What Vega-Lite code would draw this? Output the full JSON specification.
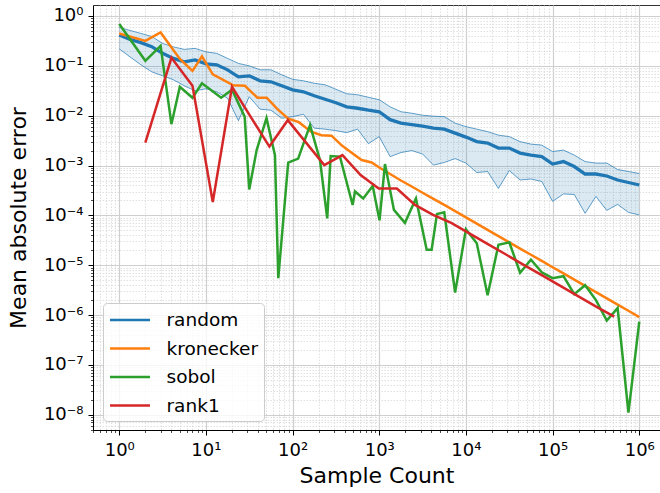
{
  "$schema": "https://vega.github.io/schema/vega-lite/v6.json",
  "autosize": {"type": "none"},
  "padding": {"left": 93, "top": 5, "right": 0, "bottom": 63},
  "width": 567,
  "height": 425,
  "config": {
    "view": {"stroke": "#333333", "strokeWidth": 1},
    "font": "DejaVu Sans",
    "axis": {"labelFont": "DejaVu Sans", "titleFont": "DejaVu Sans", "labelColor": "black", "titleColor": "black", "domainColor": "black", "tickColor": "black", "titleFontWeight": "normal"}
  },
  "datasets": {
    "band": [
      {"x":1,"lo":0.219,"hi":0.589},
      {"x":1.334,"lo":0.151,"hi":0.513},
      {"x":1.778,"lo":0.105,"hi":0.447},
      {"x":2.371,"lo":0.0759,"hi":0.389},
      {"x":3.162,"lo":0.0631,"hi":0.282},
      {"x":4.217,"lo":0.0525,"hi":0.240},
      {"x":5.623,"lo":0.0398,"hi":0.214},
      {"x":7.499,"lo":0.0316,"hi":0.224},
      {"x":10,"lo":0.0347,"hi":0.191},
      {"x":13.34,"lo":0.0302,"hi":0.178},
      {"x":17.78,"lo":0.0224,"hi":0.141},
      {"x":23.71,"lo":0.00794,"hi":0.112},
      {"x":31.62,"lo":0.0240,"hi":0.100},
      {"x":42.17,"lo":0.0135,"hi":0.0832},
      {"x":56.23,"lo":0.0129,"hi":0.0832},
      {"x":74.99,"lo":0.00891,"hi":0.0661},
      {"x":100,"lo":0.00955,"hi":0.0537},
      {"x":133.4,"lo":0.0107,"hi":0.0501},
      {"x":177.8,"lo":0.00562,"hi":0.0447},
      {"x":237.1,"lo":0.00537,"hi":0.0417},
      {"x":316.2,"lo":0.00501,"hi":0.0339},
      {"x":421.7,"lo":0.00457,"hi":0.0275},
      {"x":562.3,"lo":0.00537,"hi":0.0263},
      {"x":749.9,"lo":0.00275,"hi":0.0234},
      {"x":1000,"lo":0.00380,"hi":0.0209},
      {"x":1334,"lo":0.00151,"hi":0.0151},
      {"x":1778,"lo":0.00182,"hi":0.0120},
      {"x":2371,"lo":0.00200,"hi":0.0112},
      {"x":3162,"lo":0.00170,"hi":0.0102},
      {"x":4217,"lo":0.00102,"hi":0.00977},
      {"x":5623,"lo":0.00115,"hi":0.00955},
      {"x":7499,"lo":0.00138,"hi":0.00708},
      {"x":10000,"lo":0.00112,"hi":0.00603},
      {"x":13335,"lo":0.000724,"hi":0.00537},
      {"x":17783,"lo":0.000759,"hi":0.00479},
      {"x":23714,"lo":0.000347,"hi":0.00407},
      {"x":31623,"lo":0.000794,"hi":0.00380},
      {"x":42170,"lo":0.000513,"hi":0.00302},
      {"x":56234,"lo":0.000537,"hi":0.00269},
      {"x":74989,"lo":0.000479,"hi":0.00257},
      {"x":100000,"lo":0.000191,"hi":0.00191},
      {"x":133352,"lo":0.000269,"hi":0.00204},
      {"x":177828,"lo":0.000263,"hi":0.00162},
      {"x":237137,"lo":0.000110,"hi":0.00120},
      {"x":316228,"lo":0.000240,"hi":0.00112},
      {"x":421697,"lo":0.000126,"hi":0.00112},
      {"x":562341,"lo":0.000166,"hi":0.000832},
      {"x":749894,"lo":0.000115,"hi":0.000759},
      {"x":1000000,"lo":0.000102,"hi":0.000692}
    ],
    "lines": [
      {"method":"random","x":1,"y":0.417},
      {"method":"random","x":1.334,"y":0.339},
      {"method":"random","x":1.778,"y":0.292},
      {"method":"random","x":2.371,"y":0.243},
      {"method":"random","x":3.162,"y":0.178},
      {"method":"random","x":4.217,"y":0.141},
      {"method":"random","x":5.623,"y":0.120},
      {"method":"random","x":7.499,"y":0.132},
      {"method":"random","x":10,"y":0.110},
      {"method":"random","x":13.34,"y":0.105},
      {"method":"random","x":17.78,"y":0.0832},
      {"method":"random","x":23.71,"y":0.0603},
      {"method":"random","x":31.62,"y":0.0631},
      {"method":"random","x":42.17,"y":0.0501},
      {"method":"random","x":56.23,"y":0.0479},
      {"method":"random","x":74.99,"y":0.0398},
      {"method":"random","x":100,"y":0.0331},
      {"method":"random","x":133.4,"y":0.0302},
      {"method":"random","x":177.8,"y":0.0251},
      {"method":"random","x":237.1,"y":0.0214},
      {"method":"random","x":316.2,"y":0.0182},
      {"method":"random","x":421.7,"y":0.0151},
      {"method":"random","x":562.3,"y":0.0141},
      {"method":"random","x":749.9,"y":0.0129},
      {"method":"random","x":1000,"y":0.0120},
      {"method":"random","x":1334,"y":0.00832},
      {"method":"random","x":1778,"y":0.00708},
      {"method":"random","x":2371,"y":0.00661},
      {"method":"random","x":3162,"y":0.00617},
      {"method":"random","x":4217,"y":0.00562},
      {"method":"random","x":5623,"y":0.00537},
      {"method":"random","x":7499,"y":0.00447},
      {"method":"random","x":10000,"y":0.00372},
      {"method":"random","x":13335,"y":0.00302},
      {"method":"random","x":17783,"y":0.00282},
      {"method":"random","x":23714,"y":0.00224},
      {"method":"random","x":31623,"y":0.00224},
      {"method":"random","x":42170,"y":0.00178},
      {"method":"random","x":56234,"y":0.00162},
      {"method":"random","x":74989,"y":0.00151},
      {"method":"random","x":100000,"y":0.00107},
      {"method":"random","x":133352,"y":0.00120},
      {"method":"random","x":177828,"y":0.000955},
      {"method":"random","x":237137,"y":0.000676},
      {"method":"random","x":316228,"y":0.000676},
      {"method":"random","x":421697,"y":0.000617},
      {"method":"random","x":562341,"y":0.000513},
      {"method":"random","x":749894,"y":0.000457},
      {"method":"random","x":1000000,"y":0.000407},

      {"method":"kronecker","x":1,"y":0.447},
      {"method":"kronecker","x":2,"y":0.316},
      {"method":"kronecker","x":3,"y":0.468},
      {"method":"kronecker","x":5,"y":0.138},
      {"method":"kronecker","x":7,"y":0.0794},
      {"method":"kronecker","x":9,"y":0.155},
      {"method":"kronecker","x":12,"y":0.0676},
      {"method":"kronecker","x":20.7,"y":0.0407},
      {"method":"kronecker","x":28.2,"y":0.0398},
      {"method":"kronecker","x":39.3,"y":0.0229},
      {"method":"kronecker","x":50.2,"y":0.0229},
      {"method":"kronecker","x":66.9,"y":0.0135},
      {"method":"kronecker","x":89.1,"y":0.00871},
      {"method":"kronecker","x":118,"y":0.00741},
      {"method":"kronecker","x":163,"y":0.00479},
      {"method":"kronecker","x":215,"y":0.00407},
      {"method":"kronecker","x":281,"y":0.00398},
      {"method":"kronecker","x":371,"y":0.00251},
      {"method":"kronecker","x":459,"y":0.00191},
      {"method":"kronecker","x":626,"y":0.00129},
      {"method":"kronecker","x":817,"y":0.00115},
      {"method":"kronecker","x":1000,"y":0.000912},
      {"method":"kronecker","x":1334,"y":0.000676},
      {"method":"kronecker","x":1778,"y":0.000501},
      {"method":"kronecker","x":2371,"y":0.000380},
      {"method":"kronecker","x":3162,"y":0.000285},
      {"method":"kronecker","x":4217,"y":0.000214},
      {"method":"kronecker","x":5623,"y":0.000162},
      {"method":"kronecker","x":7499,"y":0.000122},
      {"method":"kronecker","x":10000,"y":0.0000912},
      {"method":"kronecker","x":13335,"y":0.0000684},
      {"method":"kronecker","x":17783,"y":0.0000513},
      {"method":"kronecker","x":23714,"y":0.0000385},
      {"method":"kronecker","x":31623,"y":0.0000288},
      {"method":"kronecker","x":42170,"y":0.0000216},
      {"method":"kronecker","x":56234,"y":0.0000162},
      {"method":"kronecker","x":74989,"y":0.0000122},
      {"method":"kronecker","x":100000,"y":0.00000912},
      {"method":"kronecker","x":133352,"y":0.00000684},
      {"method":"kronecker","x":177828,"y":0.00000513},
      {"method":"kronecker","x":237137,"y":0.00000385},
      {"method":"kronecker","x":316228,"y":0.00000288},
      {"method":"kronecker","x":421697,"y":0.00000216},
      {"method":"kronecker","x":562341,"y":0.00000162},
      {"method":"kronecker","x":749894,"y":0.00000122},
      {"method":"kronecker","x":1000000,"y":0.000000912},

      {"method":"sobol","x":1,"y":0.692},
      {"method":"sobol","x":2,"y":0.126},
      {"method":"sobol","x":3,"y":0.251},
      {"method":"sobol","x":4,"y":0.00676},
      {"method":"sobol","x":5,"y":0.0380},
      {"method":"sobol","x":7,"y":0.0229},
      {"method":"sobol","x":9,"y":0.0447},
      {"method":"sobol","x":15,"y":0.0229},
      {"method":"sobol","x":20,"y":0.0331},
      {"method":"sobol","x":28,"y":0.00955},
      {"method":"sobol","x":31.6,"y":0.000331},
      {"method":"sobol","x":38.5,"y":0.00204},
      {"method":"sobol","x":50,"y":0.00891},
      {"method":"sobol","x":62.6,"y":0.00162},
      {"method":"sobol","x":68.4,"y":0.0000055},
      {"method":"sobol","x":89,"y":0.00115},
      {"method":"sobol","x":116,"y":0.00138},
      {"method":"sobol","x":159,"y":0.00646},
      {"method":"sobol","x":207,"y":0.00129},
      {"method":"sobol","x":251,"y":0.0000871},
      {"method":"sobol","x":275,"y":0.00155},
      {"method":"sobol","x":352,"y":0.00151},
      {"method":"sobol","x":493,"y":0.000162},
      {"method":"sobol","x":525,"y":0.000302},
      {"method":"sobol","x":653,"y":0.000219},
      {"method":"sobol","x":840,"y":0.000389},
      {"method":"sobol","x":1007,"y":0.0000794},
      {"method":"sobol","x":1164,"y":0.00107},
      {"method":"sobol","x":1477,"y":0.000129},
      {"method":"sobol","x":1977,"y":0.0000708},
      {"method":"sobol","x":2650,"y":0.000219},
      {"method":"sobol","x":3524,"y":0.0000204},
      {"method":"sobol","x":4020,"y":0.0000204},
      {"method":"sobol","x":4634,"y":0.000107},
      {"method":"sobol","x":5623,"y":0.000115},
      {"method":"sobol","x":7499,"y":0.00000282},
      {"method":"sobol","x":10000,"y":0.0000525},
      {"method":"sobol","x":13335,"y":0.0000275},
      {"method":"sobol","x":17783,"y":0.00000251},
      {"method":"sobol","x":23714,"y":0.0000257},
      {"method":"sobol","x":31623,"y":0.0000288},
      {"method":"sobol","x":42170,"y":0.00000708},
      {"method":"sobol","x":56234,"y":0.0000129},
      {"method":"sobol","x":74989,"y":0.00000724},
      {"method":"sobol","x":100000,"y":0.0000055},
      {"method":"sobol","x":133352,"y":0.00000603},
      {"method":"sobol","x":177828,"y":0.00000263},
      {"method":"sobol","x":237137,"y":0.00000398},
      {"method":"sobol","x":316228,"y":0.000002},
      {"method":"sobol","x":421697,"y":0.000000776},
      {"method":"sobol","x":562341,"y":0.00000138},
      {"method":"sobol","x":749894,"y":0.000000011},
      {"method":"sobol","x":1000000,"y":0.000000741},

      {"method":"rank1","x":2,"y":0.00288},
      {"method":"rank1","x":4,"y":0.145},
      {"method":"rank1","x":7,"y":0.0398},
      {"method":"rank1","x":12,"y":0.000186},
      {"method":"rank1","x":20,"y":0.0380},
      {"method":"rank1","x":33,"y":0.00933},
      {"method":"rank1","x":54,"y":0.00240},
      {"method":"rank1","x":88,"y":0.00813},
      {"method":"rank1","x":143,"y":0.00288},
      {"method":"rank1","x":232,"y":0.00102},
      {"method":"rank1","x":376,"y":0.00162},
      {"method":"rank1","x":609,"y":0.000646},
      {"method":"rank1","x":986,"y":0.000347},
      {"method":"rank1","x":1596,"y":0.000347},
      {"method":"rank1","x":2583,"y":0.000162},
      {"method":"rank1","x":4180,"y":0.000102},
      {"method":"rank1","x":6764,"y":0.0000708},
      {"method":"rank1","x":10945,"y":0.0000437},
      {"method":"rank1","x":17710,"y":0.0000269},
      {"method":"rank1","x":28656,"y":0.0000166},
      {"method":"rank1","x":46367,"y":0.0000102},
      {"method":"rank1","x":75024,"y":0.00000631},
      {"method":"rank1","x":121392,"y":0.00000389},
      {"method":"rank1","x":196417,"y":0.0000024},
      {"method":"rank1","x":317810,"y":0.00000148},
      {"method":"rank1","x":514228,"y":0.000000933}
    ]
  },
  "resolve": {"axis": {"x": "independent", "y": "independent"}},
  "layer": [
    {
      "data": {"name": "band"},
      "mark": {"type": "area", "color": "#1f77b4", "opacity": 0.16, "clip": true},
      "encoding": {
        "x": {"field": "x", "type": "quantitative",
          "scale": {"type": "log", "domain": [0.498, 1734000], "nice": false, "zero": false},
          "axis": {"orient": "bottom", "values": [0.5,0.6,0.7,0.8,0.9,2,3,4,5,6,7,8,9,20,30,40,50,60,70,80,90,200,300,400,500,600,700,800,900,2000,3000,4000,5000,6000,7000,8000,9000,20000,30000,40000,50000,60000,70000,80000,90000,200000,300000,400000,500000,600000,700000,800000,900000],
            "labels": false, "title": null, "domain": false, "tickSize": 2.5, "tickWidth": 0.7, "grid": true, "gridColor": "#d8d8d8", "gridDash": [1.5, 1.5], "gridWidth": 0.8}},
        "y": {"field": "lo", "type": "quantitative",
          "scale": {"type": "log", "domain": [4.95e-9, 1.662], "nice": false, "zero": false},
          "axis": {"orient": "left", "values": [5e-9,6e-9,7e-9,8e-9,9e-9,2e-8,3e-8,4e-8,5e-8,6e-8,7e-8,8e-8,9e-8,2e-7,3e-7,4e-7,5e-7,6e-7,7e-7,8e-7,9e-7,2e-6,3e-6,4e-6,5e-6,6e-6,7e-6,8e-6,9e-6,2e-5,3e-5,4e-5,5e-5,6e-5,7e-5,8e-5,9e-5,2e-4,3e-4,4e-4,5e-4,6e-4,7e-4,8e-4,9e-4,0.002,0.003,0.004,0.005,0.006,0.007,0.008,0.009,0.02,0.03,0.04,0.05,0.06,0.07,0.08,0.09,0.2,0.3,0.4,0.5,0.6,0.7,0.8,0.9],
            "labels": false, "title": null, "domain": false, "tickSize": 2.5, "tickWidth": 0.7, "grid": true, "gridColor": "#d8d8d8", "gridDash": [1.5, 1.5], "gridWidth": 0.8}},
        "y2": {"field": "hi"}
      }
    },
    {
      "data": {"name": "band"},
      "mark": {"type": "line", "color": "#1f77b4", "strokeWidth": 1, "opacity": 0.7, "clip": true},
      "encoding": {
        "x": {"field": "x", "type": "quantitative", "axis": null},
        "y": {"field": "hi", "type": "quantitative", "axis": null}
      }
    },
    {
      "data": {"name": "band"},
      "mark": {"type": "line", "color": "#1f77b4", "strokeWidth": 1, "opacity": 0.7, "clip": true},
      "encoding": {
        "x": {"field": "x", "type": "quantitative", "axis": null},
        "y": {"field": "lo", "type": "quantitative", "axis": null}
      }
    },
    {
      "data": {"name": "lines"},
      "transform": [{"filter": "datum.method === 'random'"}],
      "mark": {"type": "line", "strokeWidth": 3.3, "clip": true},
      "encoding": {
        "x": {"field": "x", "type": "quantitative",
          "axis": {"orient": "bottom", "values": [1,10,100,1000,10000,100000,1000000],
            "labelExpr": "'10' + (round(log(datum.value)/LN10) < 0 ? '⁻' : '') + ['⁰','¹','²','³','⁴','⁵','⁶','⁷','⁸','⁹'][abs(round(log(datum.value)/LN10))]",
            "labelFontSize": 18, "labelPadding": 6, "tickSize": 5, "tickWidth": 1, "domainWidth": 1,
            "grid": true, "gridColor": "#cfcfcf", "gridWidth": 1.2,
            "title": "Sample Count", "titleFontSize": 22, "titlePadding": 6}},
        "y": {"field": "y", "type": "quantitative",
          "axis": {"orient": "left", "values": [1e-8,1e-7,1e-6,1e-5,1e-4,1e-3,1e-2,1e-1,1],
            "labelExpr": "'10' + (round(log(datum.value)/LN10) < 0 ? '⁻' : '') + ['⁰','¹','²','³','⁴','⁵','⁶','⁷','⁸','⁹'][abs(round(log(datum.value)/LN10))]",
            "labelFontSize": 18, "labelPadding": 5, "tickSize": 5, "tickWidth": 1, "domainWidth": 1,
            "grid": true, "gridColor": "#cfcfcf", "gridWidth": 1.2,
            "title": "Mean absolute error", "titleFontSize": 22, "titlePadding": 13}},
        "color": {"field": "method", "type": "nominal",
          "scale": {"domain": ["random","kronecker","sobol","rank1"], "range": ["#1f77b4","#ff7f0e","#2ca02c","#d62728"]},
          "legend": {"orient": "none", "legendX": 10, "legendY": 298, "title": null,
            "symbolType": "M-1,0H3", "symbolSize": 400, "symbolStrokeWidth": 2.5,
            "labelFontSize": 18.5, "labelFont": "DejaVu Sans", "labelOffset": 35, "rowPadding": 7.5,
            "padding": 5.5, "fillColor": "rgba(255,255,255,0.8)", "strokeColor": "#cccccc", "cornerRadius": 4}}
      }
    },
    {
      "data": {"name": "lines"},
      "transform": [{"filter": "datum.method !== 'random'"}],
      "mark": {"type": "line", "strokeWidth": 2.5, "clip": true},
      "encoding": {
        "x": {"field": "x", "type": "quantitative", "axis": null},
        "y": {"field": "y", "type": "quantitative", "axis": null},
        "color": {"field": "method", "type": "nominal"}
      }
    }
  ]
}
